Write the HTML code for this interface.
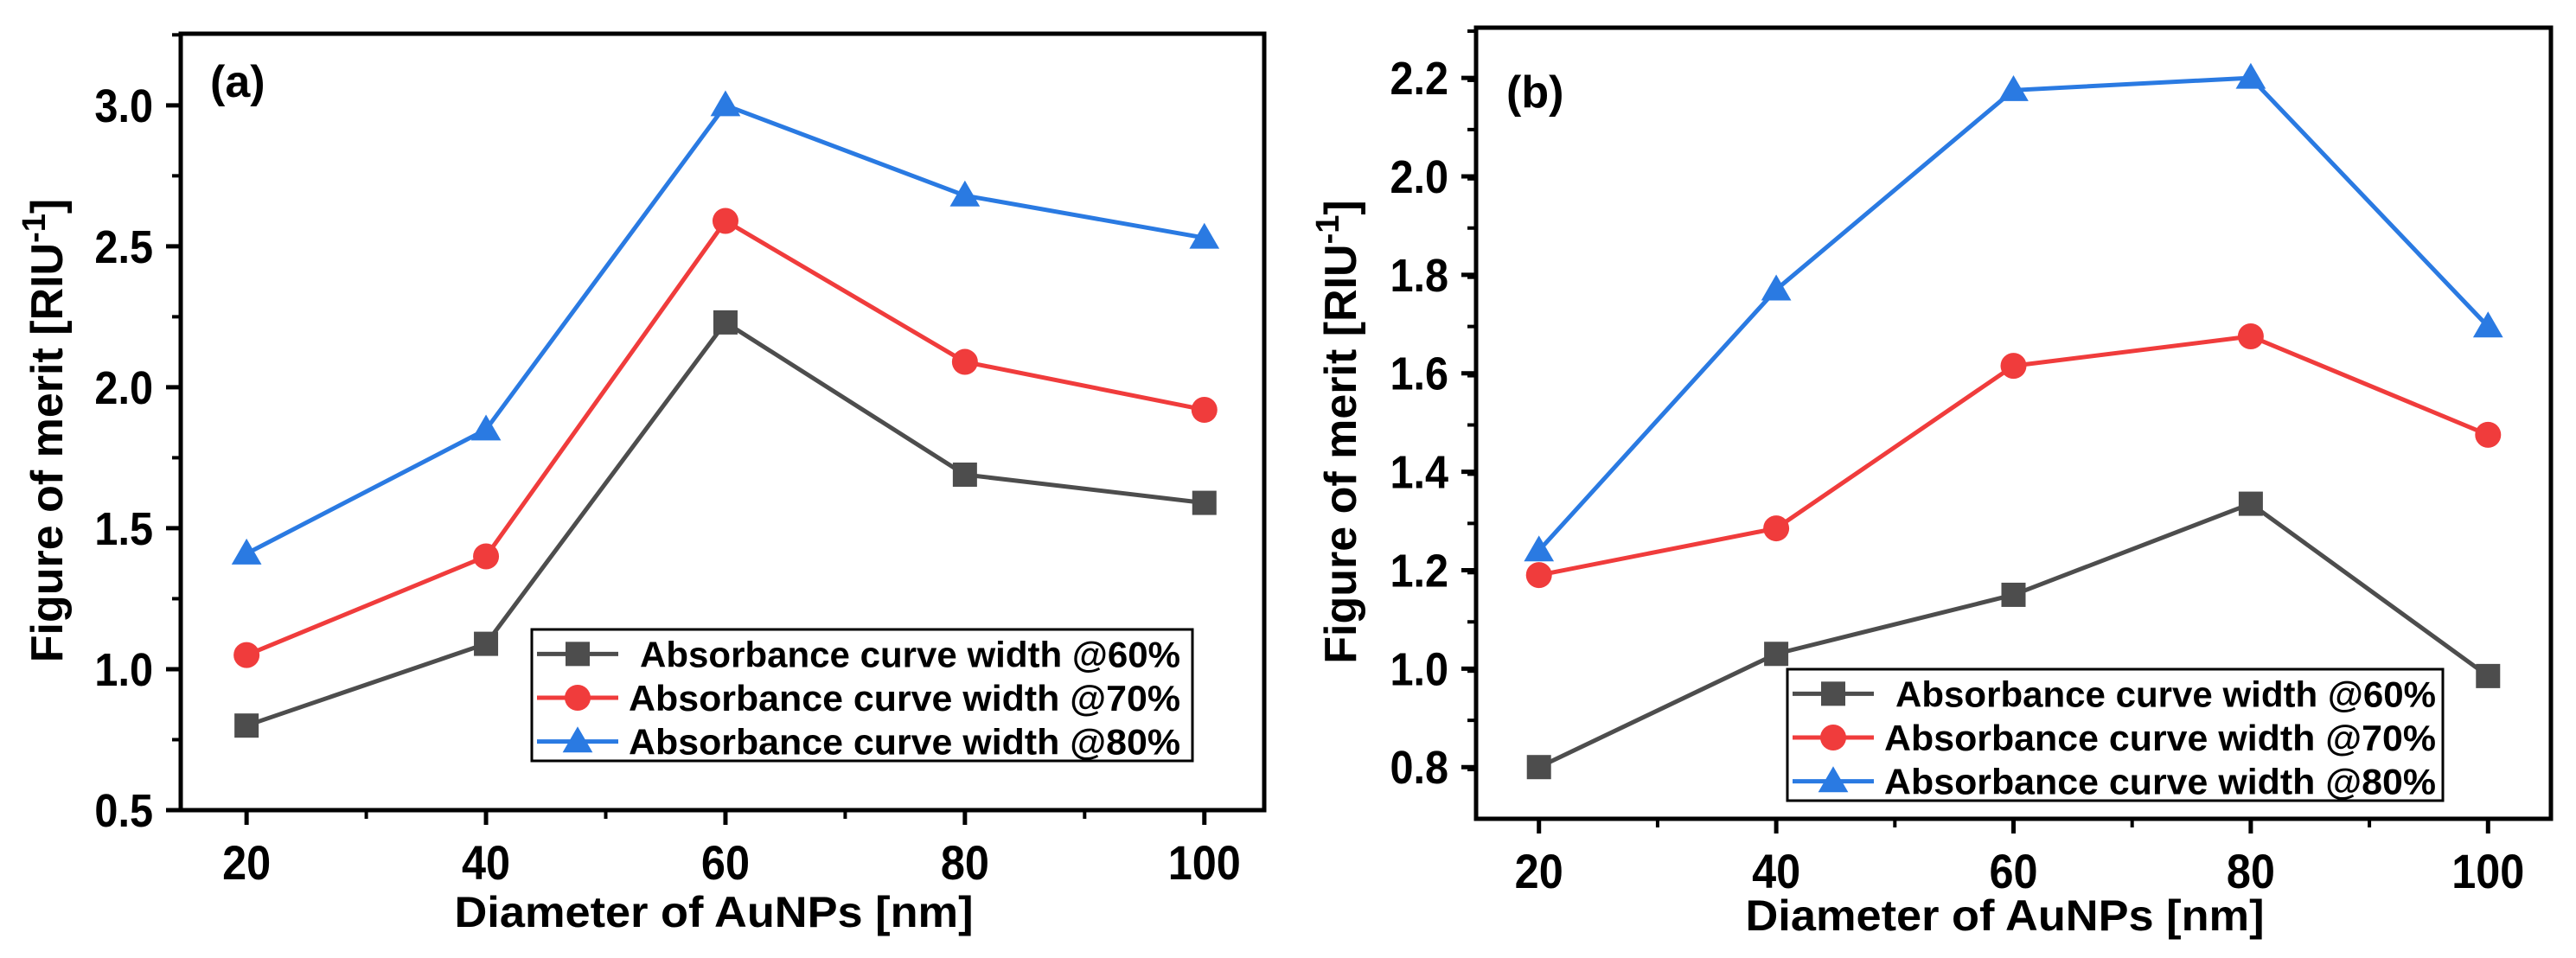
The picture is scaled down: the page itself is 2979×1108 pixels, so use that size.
<!DOCTYPE html>
<html><head><meta charset="utf-8"><style>
html,body{margin:0;padding:0;background:#fff;}
svg{display:block;font-family:"Liberation Sans",Arial,sans-serif;font-weight:bold;}
</style></head><body>
<svg id="fig" width="2979" height="1108" viewBox="0 0 2979 1108" xmlns="http://www.w3.org/2000/svg"></svg>
<script>
const xCategories = [20, 40, 60, 80, 100];
const seriesNames = ["Absorbance curve width @60%", "Absorbance curve width @70%", "Absorbance curve width @80%"];
const aGray = [0.80, 1.09, 2.23, 1.69, 1.59];
const aRed  = [1.05, 1.40, 2.59, 2.09, 1.92];
const aBlue = [1.41, 1.85, 3.00, 2.68, 2.53];
const bGray = [0.80, 1.03, 1.15, 1.335, 0.985];
const bRed  = [1.19, 1.285, 1.615, 1.675, 1.475];
const bBlue = [1.24, 1.77, 2.175, 2.20, 1.695];
const aYTicks = ["0.5", "1.0", "1.5", "2.0", "2.5", "3.0"];
const bYTicks = ["0.8", "1.0", "1.2", "1.4", "1.6", "1.8", "2.0", "2.2"];
const xTickLabels = ["20", "40", "60", "80", "100"];

const NS = "http://www.w3.org/2000/svg";
const svg = document.getElementById("fig");
const colors = ["#4d4d4d", "#f03c3c", "#2a7ae2"];
const shapes = ["square", "circle", "triangle"];

function mk(tag, attrs, parent) {
  const e = document.createElementNS(NS, tag);
  for (const k in attrs) e.setAttribute(k, attrs[k]);
  (parent || svg).appendChild(e);
  return e;
}
function marker(g, shape, cx, cy, col, s) {
  let m;
  if (shape === "square") m = mk("rect", {x: cx - s/2, y: cy - s/2, width: s, height: s, fill: col}, g);
  else if (shape === "circle") m = mk("circle", {cx: cx, cy: cy, r: s/2 + 1, fill: col}, g);
  else m = mk("polygon", {points: `${cx},${cy - s*0.62} ${cx - s*0.62},${cy + s*0.45} ${cx + s*0.62},${cy + s*0.45}`, fill: col}, g);
  return m;
}

function panel(p) {
  const g = mk("g", {});
  
  
  const X = v => p.x0 + (v - p.xmin) / (p.xmax - p.xmin) * (p.x1 - p.x0);
  const Y = v => p.y1 - (v - p.ymin) / (p.ymax - p.ymin) * (p.y1 - p.y0);
  const fr = mk("rect", {x: p.x0, y: p.y0, width: p.x1 - p.x0, height: p.y1 - p.y0, fill: "none", stroke: "#000", "stroke-width": 5}, g);
  
  
  p.yTicks.forEach(t => {
    const v = parseFloat(t), y = Y(v);
    const tk = mk("line", {x1: p.x0 - 17, x2: p.x0, y1: y, y2: y, stroke: "#000", "stroke-width": 5}, g);
    
    
    const tl = mk("text", {x: p.x0 - 32, y: y + 19, "text-anchor": "end", "font-size": 54, transform: `translate(${(p.x0-32)*0.1},0) scale(0.9,1)`}, g);
    tl.setAttribute('x', (p.x0 - 32) / 0.9);
    tl.setAttribute('transform', 'scale(0.9,1)');
    tl.textContent = t;
    
    
  });
  for (let v = p.ymin + p.yMinor; v < p.ymax; v += p.yMinor) {
    const y = Y(v);
    const mt = mk("line", {x1: p.x0 - 10, x2: p.x0, y1: y, y2: y, stroke: "#000", "stroke-width": 4}, g);
    
    
  }
  xTickLabels.forEach(t => {
    const x = X(parseFloat(t));
    const tk = mk("line", {x1: x, x2: x, y1: p.y1, y2: p.y1 + 17, stroke: "#000", "stroke-width": 5}, g);
    
    
    const tl = mk("text", {x: x / 0.9, y: p.y1 + 80, "text-anchor": "middle", "font-size": 56, transform: 'scale(0.9,1)'}, g);
    tl.textContent = t;
    
    
  });
  [30, 50, 70, 90].forEach(v => {
    const x = X(v);
    const mt = mk("line", {x1: x, x2: x, y1: p.y1, y2: p.y1 + 10, stroke: "#000", "stroke-width": 4}, g);
    
    
  });
  const xt = mk("text", {x: (p.x0 + p.x1) / 2 - 10, y: p.xTitleY, "text-anchor": "middle", "font-size": 50, textLength: 600, lengthAdjust: "spacingAndGlyphs"}, g);
  xt.textContent = "Diameter of AuNPs [nm]";
  
  
  const yt = mk("text", {transform: `translate(${p.yTitleX},${(p.y0 + p.y1) / 2 + 10}) rotate(-90)`, "text-anchor": "middle", "font-size": 52}, g);
  yt.textContent = "Figure of merit [RIU";
  const sup = mk("tspan", {"font-size": 38, dy: -20}, yt);
  sup.textContent = "-1";
  const cl = mk("tspan", {"font-size": 52, dy: 20}, yt);
  cl.textContent = "]";
  
  
  const pl = mk("text", {x: p.labelX, y: p.labelY, "font-size": 52}, g);
  pl.textContent = p.label;
  
  
  p.series.forEach((vals, i) => {
    const sg = mk("g", {}, g);
    
    
    const pts = vals.map((v, j) => `${X(xCategories[j])},${Y(v)}`).join(" ");
    const ln = mk("polyline", {points: pts, fill: "none", stroke: colors[i], "stroke-width": 5, "stroke-linejoin": "round"}, sg);
    
    
    vals.forEach((v, j) => {
      const m = marker(sg, shapes[i], X(xCategories[j]), Y(v), colors[i], 28);
      
      
    });
  });
  const lg = mk("g", {}, g);
  
  
  const lb = mk("rect", {x: p.lx0, y: p.ly0, width: p.lx1 - p.lx0, height: p.ly1 - p.ly0, fill: "#fff", stroke: "#000", "stroke-width": 3}, lg);
  
  
  const rowH = (p.ly1 - p.ly0) / 3;
  seriesNames.forEach((nm, i) => {
    const eg = mk("g", {}, lg);
    
    
    const cy = p.ly0 + rowH * (i + 0.5) + 3;
    mk("line", {x1: p.lx0 + 6, x2: p.lx0 + 100, y1: cy, y2: cy, stroke: colors[i], "stroke-width": 5}, eg);
    marker(eg, shapes[i], p.lx0 + 53, cy, colors[i], 28);
    const tx = mk("text", {x: p.lx0 + (i === 0 ? 125 : 112), y: cy + 15, "font-size": 42, textLength: (i === 0 ? 625 : 638), lengthAdjust: "spacingAndGlyphs"}, eg);
    tx.textContent = nm;
  });
}

panel({name: "panel-a", x0: 209, x1: 1462, y0: 39, y1: 937, xmin: 14.5, xmax: 105, ymin: 0.5, ymax: 3.254, yMinor: 0.25,
  yTicks: aYTicks, series: [aGray, aRed, aBlue], label: "(a)", labelX: 243, labelY: 112,
  xTitleY: 1072, yTitleX: 72, lx0: 615, lx1: 1379, ly0: 728, ly1: 880});
panel({name: "panel-b", x0: 1707, x1: 2950, y0: 32, y1: 947, xmin: 14.7, xmax: 105.3, ymin: 0.695, ymax: 2.302, yMinor: 0.1,
  yTicks: bYTicks, series: [bGray, bRed, bBlue], label: "(b)", labelX: 1742, labelY: 124,
  xTitleY: 1076, yTitleX: 1568, lx0: 2067, lx1: 2825, ly0: 774, ly1: 926});
</script>
</body></html>
